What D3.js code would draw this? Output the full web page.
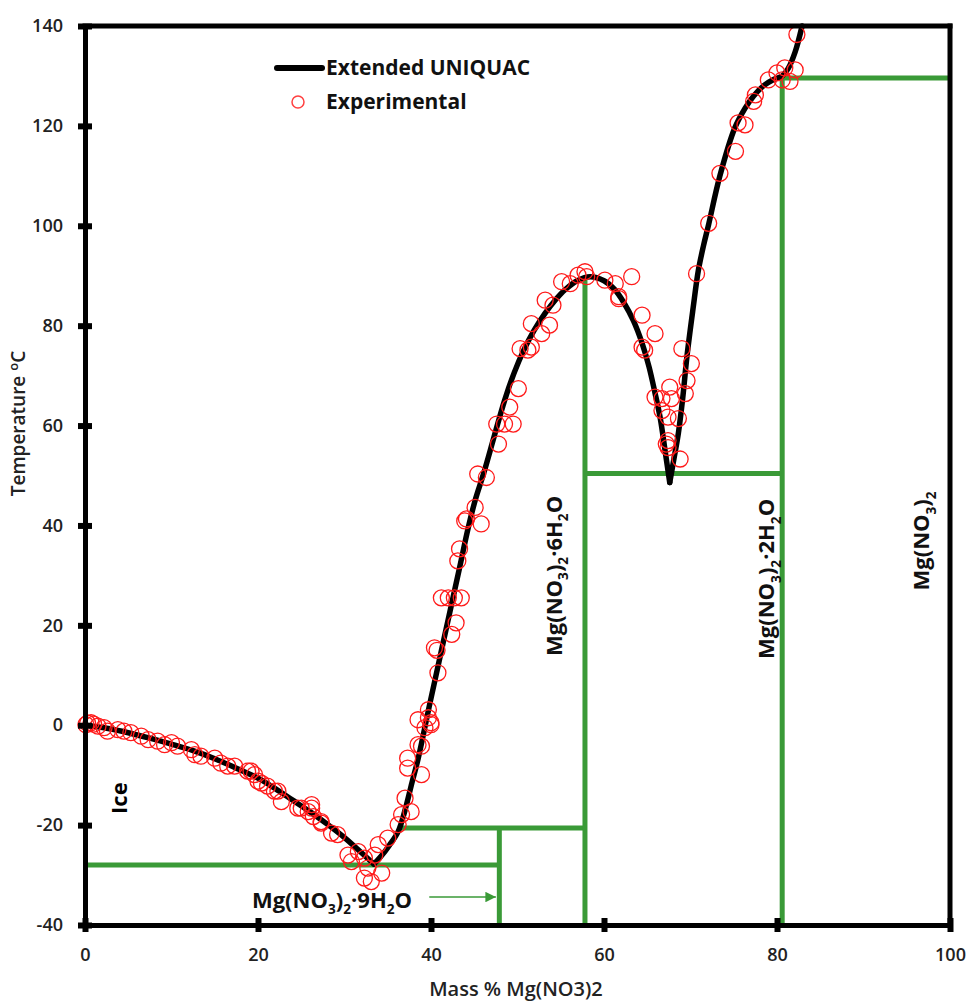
<!DOCTYPE html>
<html>
<head>
<meta charset="utf-8">
<script src="https://cdn.jsdelivr.net/npm/d3@7"></script>
<style>
body { margin: 0; background: #fff; }
svg text { font-family: "Open Sans", sans-serif; }
</style>
</head>
<body>
<svg id="chart" width="970" height="1001"></svg>
<script>
// axis ticks
const xTicks = [0, 20, 40, 60, 80, 100];
const yTicks = [-40, -20, 0, 20, 40, 60, 80, 100, 120, 140];

// Extended UNIQUAC model, one array per solid phase branch [mass %, T]
const iceBranch = [[0,0],[2.5,-0.6],[5,-1.5],[7.5,-2.6],[10,-3.8],[12.5,-5.1],[15,-6.7],[17.5,-8.6],[20,-10.6],[22,-12.7],[24,-15.0],[26,-17.3],[28,-19.8],[30,-22.5],[32,-25.6],[33.4,-27.8]];
const hydrateBranch = [[33.4,-27.8],[34.2,-26.3],[35.2,-24.0],[36.2,-21.3],[37.0,-17.0],[37.8,-11.5],[38.5,-6.8],[39.9,4.6],[41.5,17.3],[43.3,31.5],[44.3,39.5],[45.1,45.0],[46.1,50.5],[47.3,57.8],[48.5,65.0],[49.6,70.5],[50.7,75.0],[51.9,79.0],[53.2,82.5],[54.4,85.2],[55.5,87.2],[56.9,89.0],[58.4,89.8],[60.0,89.0],[61.2,87.3],[62.3,84.6],[63.4,81.0],[64.4,76.5],[65.2,71.8],[65.9,66.5],[66.5,61.5],[67.1,54.5],[67.6,48.6]];
const dihydrateBranch = [[67.6,48.6],[68.1,53.5],[68.6,58.5],[69.1,65.5],[69.6,74.0],[70.3,83.5],[70.9,91.0],[71.5,96.0],[72.1,100.3],[73.4,110.0],[75.1,119.5],[76.3,123.5],[77.3,126.0],[78.5,128.1],[79.6,129.3],[80.6,130.0],[81.3,131.5],[82.1,134.8],[82.9,140]];

// experimental solubility / freezing points [mass %, T]
const experimental = [
  [0.1,0.1],[0.3,0.4],[0.7,0.5],[1.0,0.2],[1.5,-0.2],[2.2,-0.5],[2.6,-1.2],[3.8,-0.9],[4.5,-1.2],[5.3,-1.5],[6.5,-2.2],[7.3,-2.9],
  [8.4,-3.2],[9.2,-3.9],[10.0,-3.5],[10.7,-4.2],[12.3,-4.9],[12.7,-5.9],[13.4,-6.2],[15.0,-6.6],[15.7,-7.6],[16.5,-8.2],[17.3,-8.2],
  [18.8,-9.2],[19.2,-9.2],[19.6,-9.9],[20.0,-11.2],[20.4,-11.6],[21.1,-12.2],[21.9,-13.2],[22.3,-13.2],[22.7,-15.3],[24.6,-16.6],
  [25.0,-16.6],[25.8,-17.3],[26.2,-16.6],[26.2,-15.9],[26.4,-18.3],[27.3,-19.3],[27.3,-19.6],[28.5,-21.6],[29.2,-21.9],[30.4,-26.0],
  [30.8,-27.3],[31.6,-25.3],[32.3,-26.6],[32.7,-28.6],[32.3,-30.6],[33.1,-31.3],[34.3,-29.6],[33.5,-26.0],
  [33.9,-23.9],[35.0,-22.6],[36.2,-19.9],[36.6,-17.9],[37.7,-17.3],[37.0,-14.6],[37.3,-8.6],[38.9,-9.9],[38.5,-3.9],[39.3,-0.5],
  [39.7,1.5],[40.0,0.1],[37.3,-6.6],[38.9,-4.2],[38.5,1.1],[40.0,0.5],[39.7,3.1],[40.8,10.5],[40.4,15.5],[40.7,15.0],[42.4,18.2],
  [42.9,20.5],[41.2,25.5],[42.0,25.5],[42.7,25.5],[43.5,25.5],[43.1,32.9],[43.3,35.3],[44.1,41.3],[45.1,43.6],[45.8,40.3],[43.9,40.9],
  [45.4,50.3],[46.4,49.6],[47.8,56.3],[47.6,60.3],[48.5,60.3],[49.5,60.3],[49.1,63.7],[50.1,67.4],[50.3,75.4],[51.2,75.1],[51.6,75.7],
  [51.6,80.4],[52.8,78.4],[53.7,80.1],[53.2,85.1],[54.1,84.1],[55.1,88.8],[56.1,88.4],[57.0,90.1],[57.8,90.8],[58.0,89.8],[60.1,89.1],
  [61.3,88.4],[61.7,85.8],[63.2,89.8],[61.7,85.4],[64.4,82.1],[65.9,78.4],[64.4,75.7],[64.7,75.1],[65.9,65.7],[66.7,65.4],[67.6,67.7],
  [67.8,65.4],[66.7,63.0],[67.4,61.7],[68.6,61.4],[69.4,66.4],[69.6,69.0],[70.1,72.4],[69.0,75.4],[67.4,57.0],[67.4,55.6],[67.2,56.3],
  [68.8,53.3],[70.7,90.4],[72.1,100.5],[73.4,110.5],[75.2,114.9],[75.5,120.6],[76.3,120.2],[77.5,126.2],[77.3,124.9],[79.0,129.2],
  [80.0,130.6],[80.9,131.6],[81.5,128.9],[82.1,131.2],[80.6,129.2],[82.3,138.3]
];

// phase boundary segments [x1, T1, x2, T2]
const phaseLines = [
  [0,-28,47.9,-28], [47.9,-20.6,47.9,-40], [36.3,-20.6,57.8,-20.6],
  [57.8,89.6,57.8,-40], [57.8,50.4,80.6,50.4], [80.6,129.6,80.6,-40], [80.6,129.6,100,129.6]
];

// solid phase labels: [parts], subscript flagged 1
const hexaLabel = [["Mg(NO",0],["3",1],[")",0],["2",1],["\u00b76H",0],["2",1],["O",0]];
const diLabel = [["Mg(NO",0],["3",1],[")",0],["2",1],["\u00b72H",0],["2",1],["O",0]];
const anhydLabel = [["Mg(NO",0],["3",1],[")",0],["2",1]];
const nonaLabel = [["Mg(NO",0],["3",1],[")",0],["2",1],["\u00b79H",0],["2",1],["O",0]];

const svg = d3.select("#chart");
const x = d3.scaleLinear().domain([0, 100]).range([85, 950]);
const y = d3.scaleLinear().domain([-40, 140]).range([925, 26]);
const green = "#3a9a37";

function chem(textSel, parts, size) {
  let down = false;
  parts.forEach(p => {
    const t = textSel.append("tspan").text(p[0]);
    if (p[1]) {
      t.attr("font-size", size * 0.62).attr("dy", down ? 0 : size * 0.3);
      down = true;
    } else {
      t.attr("font-size", size).attr("dy", down ? -size * 0.3 : 0);
      down = false;
    }
  });
}

// phase boundaries
svg.append("g").selectAll("line")
  .data(phaseLines)
  .join("line")
  .attr("x1", d => x(d[0])).attr("y1", d => y(d[1]))
  .attr("x2", d => x(d[2])).attr("y2", d => y(d[3]))
  .attr("stroke", green).attr("stroke-width", 5);

// model curve
const line = d3.line().x(d => x(d[0])).y(d => y(d[1])).curve(d3.curveCatmullRom.alpha(0.5));
svg.append("g").selectAll("path")
  .data([iceBranch, hydrateBranch, dihydrateBranch])
  .join("path")
  .attr("d", line)
  .attr("fill", "none").attr("stroke", "#000").attr("stroke-width", 5.5)
  .attr("stroke-linecap", "round").attr("stroke-linejoin", "round");

// experimental points
svg.append("g").selectAll("circle")
  .data(experimental)
  .join("circle")
  .attr("cx", d => x(d[0])).attr("cy", d => y(d[1]))
  .attr("r", 8).attr("fill", "none").attr("stroke", "#ff1a1a").attr("stroke-width", 1.3);

// frame
svg.append("line").attr("x1", x(0)).attr("x2", x(100)).attr("y1", y(140)).attr("y2", y(140))
  .attr("stroke", "#000").attr("stroke-width", 5).attr("stroke-linecap", "square");
svg.append("line").attr("x1", x(100)).attr("x2", x(100)).attr("y1", y(140)).attr("y2", y(-40))
  .attr("stroke", "#000").attr("stroke-width", 5).attr("stroke-linecap", "square");

// axes
const yAxis = svg.append("g").attr("transform", `translate(${x(0)},0)`)
  .call(d3.axisLeft(y).tickValues(yTicks).tickFormat(d => String(d))
    .tickSizeInner(7).tickSizeOuter(0).tickPadding(15));
yAxis.selectAll(".tick line").attr("x1", 7).attr("stroke-width", 6);
const xAxis = svg.append("g").attr("transform", `translate(0,${y(-40)})`)
  .call(d3.axisBottom(x).tickValues(xTicks).tickFormat(d => String(d))
    .tickSizeInner(7).tickSizeOuter(0).tickPadding(16));
xAxis.selectAll(".tick line").attr("y1", -7).attr("stroke-width", 6);
[yAxis, xAxis].forEach(a => {
  a.select(".domain").attr("stroke", "#000").attr("stroke-width", 5).attr("stroke-linecap", "square");
  a.selectAll(".tick text").attr("font-family", "Open Sans").attr("font-size", 18)
    .attr("font-weight", 600).attr("fill", "#222");
});

// axis titles
svg.append("text")
  .attr("transform", `translate(25,${(y(-40) + y(140)) / 2 - 52}) rotate(-90)`)
  .attr("text-anchor", "middle").attr("font-size", 19).attr("font-weight", 600).attr("fill", "#222")
  .call(t => {
    t.append("tspan").text("Temperature ");
    t.append("tspan").text("o").attr("font-size", 13).attr("dy", -7);
    t.append("tspan").text("C").attr("dy", 7);
  });
svg.append("text")
  .attr("x", 516).attr("y", 996)
  .attr("text-anchor", "middle").attr("font-size", 20).attr("font-weight", 600).attr("fill", "#222")
  .text("Mass % Mg(NO3)2");

// phase labels
const labelSize = 22;
svg.append("text")
  .attr("transform", `translate(${x(4.9)},${y(-14.6)}) rotate(-90)`)
  .attr("text-anchor", "middle").attr("font-size", labelSize).attr("font-weight", 700)
  .text("Ice");
[[hexaLabel, 55.1, 29.9], [diLabel, 79.7, 29.3], [anhydLabel, 97.6, 36.9]].forEach(([parts, lx, ly]) => {
  svg.append("text")
    .attr("transform", `translate(${x(lx)},${y(ly)}) rotate(-90)`)
    .attr("text-anchor", "middle").attr("font-weight", 700).attr("fill", "#111")
    .call(t => chem(t, parts, labelSize));
});
svg.append("text")
  .attr("x", x(19.3)).attr("y", y(-36.5))
  .attr("font-weight", 700).attr("fill", "#111")
  .call(t => chem(t, nonaLabel, labelSize));

// arrow to the nonahydrate line
svg.append("defs").append("marker")
  .attr("id", "arrow").attr("viewBox", "0 0 10 10").attr("refX", 10).attr("refY", 5)
  .attr("markerWidth", 7).attr("markerHeight", 7).attr("orient", "auto")
  .append("path").attr("d", "M0,0L10,5L0,10z").attr("fill", green);
svg.append("line")
  .attr("x1", x(39.8)).attr("x2", x(47.5)).attr("y1", y(-34.4)).attr("y2", y(-34.4))
  .attr("stroke", green).attr("stroke-width", 1.5).attr("marker-end", "url(#arrow)");

// legend
const legend = svg.append("g").attr("transform", "translate(277,68)");
legend.append("line").attr("x1", 0).attr("x2", 45).attr("y1", 0).attr("y2", 0)
  .attr("stroke", "#000").attr("stroke-width", 6).attr("stroke-linecap", "round");
legend.append("text").attr("x", 49).attr("y", 7).attr("font-size", 21).attr("font-weight", 700)
  .attr("fill", "#111").text("Extended UNIQUAC");
legend.append("circle").attr("cx", 21).attr("cy", 34).attr("r", 6)
  .attr("fill", "none").attr("stroke", "#ff4040").attr("stroke-width", 1.5);
legend.append("text").attr("x", 49).attr("y", 41).attr("font-size", 21).attr("font-weight", 700)
  .attr("fill", "#111").text("Experimental");
</script>
</body>
</html>
